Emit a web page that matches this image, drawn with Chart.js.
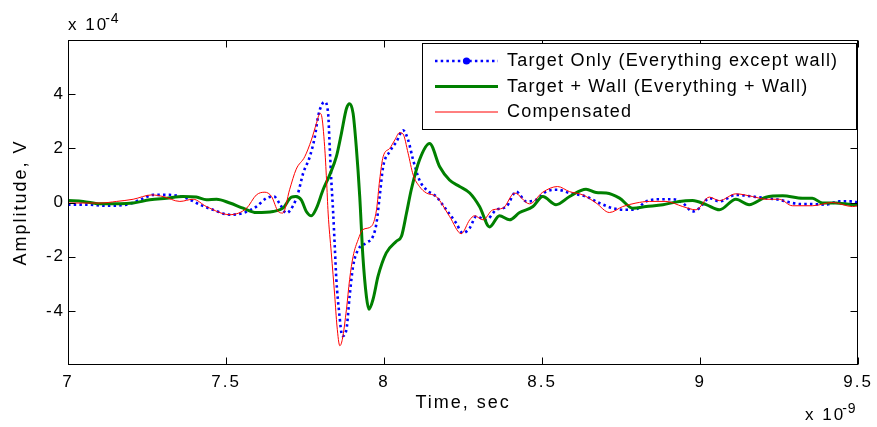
<!DOCTYPE html>
<html>
<head>
<meta charset="utf-8">
<title>Amplitude vs Time</title>
<script src="https://cdn.jsdelivr.net/npm/chart.js@4/dist/chart.umd.min.js"></script>
<style>
  html, body { margin: 0; padding: 0; background: #fff; }
  #wrap { width: 877px; height: 427px; }
  canvas { display: block; }
</style>
</head>
<body>
<div id="wrap"><canvas id="c" width="877" height="427"></canvas></div>
<script>
const FONT = '"Liberation Sans", Arial, Helvetica, sans-serif';

// Time axis in units of 1e-9 s, amplitude in units of 1e-4 V
const timeTarget = [7.000, 7.059, 7.122, 7.185, 7.228, 7.270, 7.322, 7.375, 7.417, 7.459, 7.512, 7.554, 7.596, 7.628, 7.652, 7.670, 7.691, 7.712, 7.728, 7.744, 7.765, 7.781, 7.791, 7.802, 7.812, 7.823, 7.828, 7.833, 7.839, 7.844, 7.849, 7.858, 7.868, 7.881, 7.891, 7.902, 7.918, 7.944, 7.965, 7.976, 7.986, 7.997, 8.018, 8.039, 8.060, 8.076, 8.092, 8.112, 8.134, 8.165, 8.197, 8.228, 8.249, 8.271, 8.292, 8.323, 8.355, 8.387, 8.418, 8.450, 8.481, 8.513, 8.549, 8.587, 8.639, 8.681, 8.724, 8.766, 8.792, 8.829, 8.871, 8.913, 8.945, 8.976, 8.997, 9.029, 9.061, 9.113, 9.166, 9.208, 9.250, 9.292, 9.324, 9.355, 9.398, 9.440, 9.482, 9.500];
const ampTarget  = [-0.08, -0.08, -0.12, -0.08, 0.10, 0.28, 0.28, 0.16, -0.08, -0.27, -0.45, -0.39, -0.15, 0.16, 0.22, -0.05, -0.39, -0.12, 0.35, 1.08, 1.69, 2.43, 3.16, 3.59, 3.71, 3.29, 2.06, 0.83, -0.39, -1.62, -2.84, -4.07, -4.93, -4.68, -3.46, -2.35, -1.74, -1.49, -1.25, -0.76, 0.22, 1.32, 1.88, 2.24, 2.67, 2.31, 1.57, 0.83, 0.47, 0.22, -0.27, -0.76, -1.13, -0.94, -0.51, -0.64, -0.27, -0.15, 0.40, 0.04, 0.10, 0.40, 0.47, 0.35, 0.22, -0.02, -0.21, -0.27, -0.27, 0.04, 0.12, 0.12, -0.02, -0.33, -0.21, 0.16, 0.04, 0.28, 0.22, 0.16, 0.10, -0.02, -0.06, -0.06, -0.08, 0.04, 0.04, 0.00];

const timeWall = [7.000, 7.048, 7.101, 7.164, 7.206, 7.259, 7.312, 7.364, 7.406, 7.438, 7.470, 7.512, 7.554, 7.596, 7.649, 7.680, 7.707, 7.720, 7.738, 7.754, 7.770, 7.786, 7.807, 7.828, 7.849, 7.865, 7.881, 7.891, 7.902, 7.912, 7.923, 7.933, 7.944, 7.952, 7.965, 7.981, 8.007, 8.039, 8.055, 8.071, 8.086, 8.112, 8.144, 8.176, 8.207, 8.239, 8.271, 8.302, 8.334, 8.365, 8.397, 8.429, 8.471, 8.502, 8.544, 8.587, 8.639, 8.671, 8.703, 8.745, 8.787, 8.829, 8.882, 8.934, 8.976, 9.019, 9.061, 9.113, 9.155, 9.208, 9.261, 9.324, 9.355, 9.387, 9.429, 9.482, 9.500];
const ampWall  = [0.07, 0.04, -0.05, -0.05, -0.02, 0.10, 0.16, 0.22, 0.20, 0.10, 0.12, -0.02, -0.21, -0.37, -0.33, -0.21, 0.20, 0.22, 0.10, -0.33, -0.49, -0.21, 0.47, 1.02, 1.69, 2.55, 3.47, 3.65, 3.29, 2.06, 0.22, -1.99, -3.46, -3.94, -3.58, -2.72, -1.86, -1.43, -1.25, -0.39, 0.47, 1.57, 2.18, 1.32, 0.83, 0.59, 0.35, -0.15, -0.90, -0.49, -0.64, -0.37, -0.15, 0.22, -0.08, 0.22, 0.49, 0.37, 0.35, 0.16, -0.21, -0.15, -0.08, 0.04, 0.07, -0.08, -0.27, 0.12, -0.08, 0.20, 0.25, 0.16, 0.16, -0.02, -0.02, -0.08, -0.08];

const timeComp = [7.000, 7.101, 7.154, 7.206, 7.265, 7.301, 7.354, 7.396, 7.438, 7.512, 7.565, 7.596, 7.623, 7.644, 7.665, 7.680, 7.701, 7.722, 7.749, 7.770, 7.786, 7.797, 7.802, 7.812, 7.818, 7.823, 7.833, 7.844, 7.851, 7.860, 7.868, 7.881, 7.891, 7.902, 7.918, 7.933, 7.960, 7.976, 7.986, 7.997, 8.018, 8.034, 8.049, 8.060, 8.076, 8.092, 8.112, 8.134, 8.165, 8.207, 8.244, 8.271, 8.286, 8.313, 8.344, 8.376, 8.413, 8.460, 8.502, 8.549, 8.587, 8.629, 8.671, 8.713, 8.755, 8.797, 8.839, 8.892, 8.945, 8.987, 9.029, 9.061, 9.113, 9.166, 9.208, 9.250, 9.292, 9.355, 9.419, 9.482, 9.500];
const ampComp  = [-0.02, -0.02, 0.04, 0.12, 0.28, 0.22, 0.04, 0.12, -0.15, -0.45, -0.21, 0.28, 0.38, 0.22, -0.33, -0.39, 0.47, 1.23, 1.69, 2.31, 2.92, 3.29, 3.22, 2.06, 0.83, -0.39, -1.86, -3.46, -4.56, -5.29, -5.05, -3.94, -2.84, -1.99, -1.37, -1.00, -0.88, -0.27, 0.83, 1.69, 2.00, 2.31, 2.58, 2.53, 1.82, 1.02, 0.59, 0.35, 0.22, -0.51, -1.15, -0.64, -0.49, -0.64, -0.27, -0.21, 0.35, -0.05, 0.38, 0.59, 0.40, 0.28, -0.02, -0.37, -0.15, -0.02, 0.04, 0.04, -0.15, -0.27, 0.20, 0.07, 0.32, 0.22, 0.12, 0.12, -0.12, -0.12, 0.00, -0.15, -0.12];

const seriesNames = ['Target Only (Everything except wall)', 'Target + Wall (Everything + Wall)', 'Compensated'];
const xTickValues = [7, 7.5, 8, 8.5, 9, 9.5];
const yTickValues = [-4, -2, 0, 2, 4];

const toPoints = (ts, vs) => ts.map((t, i) => ({ x: t, y: vs[i] }));

// Boxed axes with inward ticks, legend panel and exponent labels
const axesBox = {
  id: 'axesBox',
  beforeDraw(chart) {
    chart.ctx.letterSpacing = '2px';
  },
  afterDatasetsDraw(chart) {
    const { ctx, chartArea: a, scales: { x, y } } = chart;
    ctx.save();
    ctx.strokeStyle = '#000';
    ctx.lineWidth = 1;
    ctx.setLineDash([]);
    const L = Math.round(a.left) + 0.5, R = Math.round(a.right) - 0.5;
    const T = Math.round(a.top) + 0.5, B = Math.round(a.bottom) - 0.5;
    ctx.strokeRect(L, T, R - L, B - T);
    const tl = 7;
    ctx.beginPath();
    x.ticks.forEach(tk => {
      const px = Math.round(x.getPixelForValue(tk.value)) + 0.5;
      ctx.moveTo(px, B); ctx.lineTo(px, B - tl);
      ctx.moveTo(px, T); ctx.lineTo(px, T + tl);
    });
    y.ticks.forEach(tk => {
      const py = Math.round(y.getPixelForValue(tk.value)) + 0.5;
      ctx.moveTo(L, py); ctx.lineTo(L + tl, py);
      ctx.moveTo(R, py); ctx.lineTo(R - tl, py);
    });
    ctx.stroke();

    // legend panel
    const bx = 422.5, by = 43.5, bw = R - 1 - bx, bh = 86;
    ctx.fillStyle = '#fff';
    ctx.fillRect(bx, by, bw, bh);
    ctx.strokeRect(bx, by, bw, bh);
    const rows = [61, 86.5, 112];
    chart.data.datasets.forEach((ds, i) => {
      const ry = rows[i];
      ctx.save();
      ctx.strokeStyle = ds.borderColor;
      ctx.lineWidth = ds.borderWidth;
      ctx.setLineDash(ds.borderDash || []);
      ctx.lineCap = 'butt';
      ctx.beginPath();
      ctx.moveTo(435, ry); ctx.lineTo(498, ry);
      ctx.stroke();
      if (i === 0) {
        ctx.fillStyle = ds.borderColor;
        ctx.beginPath();
        ctx.arc(466.5, ry, 3.6, 0, Math.PI * 2);
        ctx.fill();
      }
      ctx.restore();
      ctx.fillStyle = '#000';
      ctx.font = '18px ' + FONT;
      ctx.letterSpacing = '1.2px';
      ctx.textAlign = 'left';
      ctx.textBaseline = 'middle';
      ctx.fillText(ds.label, 507, ry + 0.5);
    });

    // exponent labels
    const expo = (x0, yb, exp) => {
      ctx.font = '17px ' + FONT;
      ctx.letterSpacing = '2px';
      ctx.textAlign = 'left';
      ctx.textBaseline = 'alphabetic';
      ctx.fillStyle = '#000';
      ctx.fillText('x 10', x0, yb);
      const w = ctx.measureText('x 10').width;
      ctx.font = '14px ' + FONT;
      ctx.letterSpacing = '1px';
      ctx.fillText(exp, x0 + w - 3, yb - 7);
    };
    expo(68, 29.5, '-4');
    expo(805, 419.5, '-9');
    ctx.restore();
  }
};

const chart = new Chart(document.getElementById('c'), {
  type: 'line',
  data: {
    datasets: [
      {
        label: seriesNames[0],
        data: toPoints(timeTarget, ampTarget),
        borderColor: '#0000ff',
        borderWidth: 2.6,
        borderDash: [2.5, 3.2],
        pointRadius: 0,
        cubicInterpolationMode: 'monotone',
        order: 3
      },
      {
        label: seriesNames[1],
        data: toPoints(timeWall, ampWall),
        borderColor: '#008000',
        borderWidth: 3,
        pointRadius: 0,
        cubicInterpolationMode: 'monotone',
        order: 2
      },
      {
        label: seriesNames[2],
        data: toPoints(timeComp, ampComp),
        borderColor: '#ff0000',
        borderWidth: 1,
        pointRadius: 0,
        cubicInterpolationMode: 'monotone',
        order: 1
      }
    ]
  },
  options: {
    responsive: false,
    devicePixelRatio: 1,
    animation: false,
    events: [],
    layout: { autoPadding: false, padding: { left: 0, top: 40, right: 18, bottom: 0 } },
    plugins: { legend: { display: false }, tooltip: { enabled: false } },
    scales: {
      x: {
        type: 'linear',
        min: 7,
        max: 9.5,
        afterFit(s) { s.height = 62; },
        afterBuildTicks(s) { s.ticks = xTickValues.map(v => ({ value: v })); },
        grid: { display: false, drawTicks: false },
        border: { display: false },
        ticks: { color: '#000', font: { family: FONT, size: 17 }, padding: 7, maxRotation: 0, autoSkip: false, callback: v => String(v) },
        title: { display: true, text: 'Time, sec', color: '#000', font: { family: FONT, size: 18 }, padding: { top: 0, bottom: 13 } }
      },
      y: {
        type: 'linear',
        min: -6,
        max: 6,
        afterFit(s) { s.width = 68; },
        afterBuildTicks(s) { s.ticks = yTickValues.map(v => ({ value: v })); },
        grid: { display: false, drawTicks: false },
        border: { display: false },
        ticks: { color: '#000', font: { family: FONT, size: 17 }, padding: 3, callback: v => String(v) },
        title: { display: true, text: 'Amplitude, V', color: '#000', font: { family: FONT, size: 18 }, padding: { top: 10, bottom: 0 } }
      }
    }
  },
  plugins: [axesBox]
});
</script>
</body>
</html>
